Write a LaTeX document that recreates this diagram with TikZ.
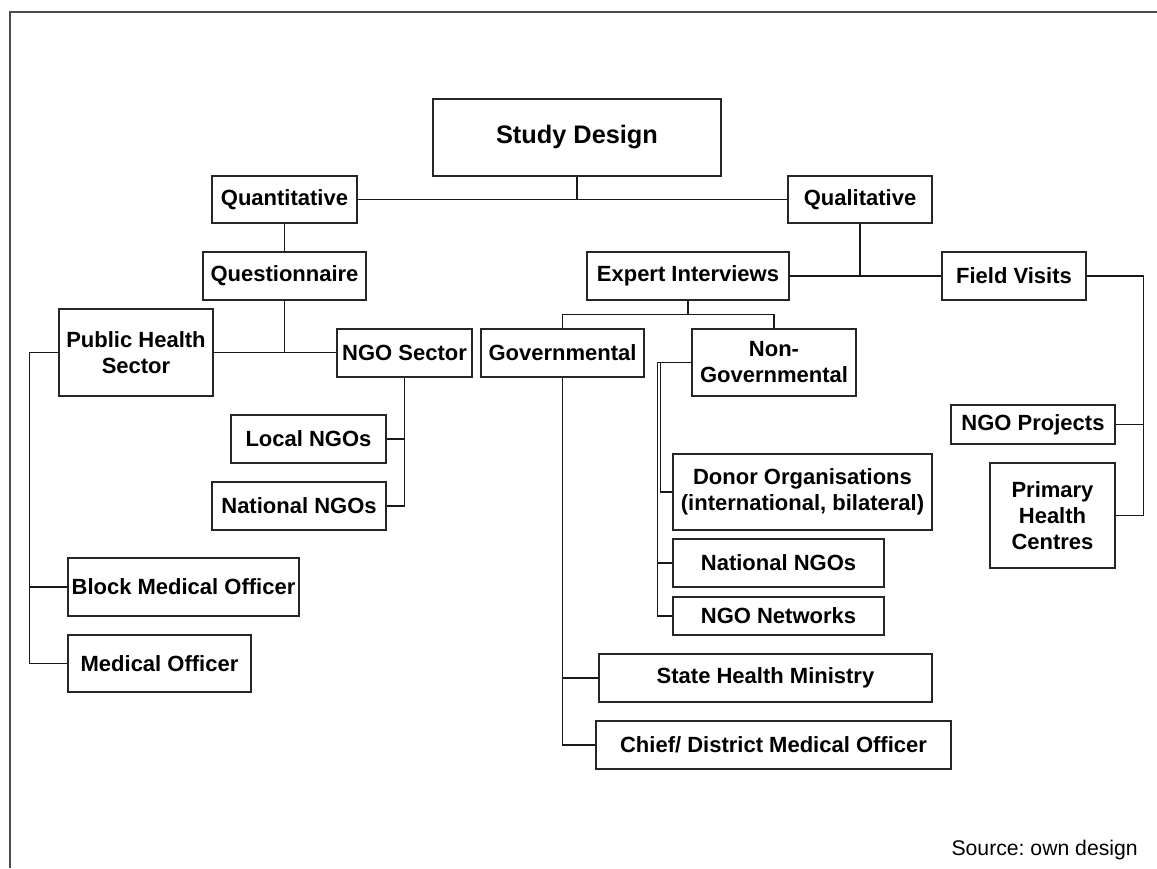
\documentclass[tikz,border=0pt]{standalone}
\usepackage{fontspec}
\setmainfont{Liberation Sans}
\frenchspacing
\begin{document}
\begin{tikzpicture}[x=0.75pt,y=-0.75pt,
  box/.style={draw=black!85, line width=0.8pt, inner sep=0pt, align=center, fill=white,
    font=\bfseries\fontsize{16.5}{19.5}\selectfont},
  bigbox/.style={box, font=\bfseries\fontsize{19}{23}\selectfont},
  sz/.style 2 args={minimum width=#1*0.75pt, minimum height=#2*0.75pt},
  link/.style={draw=black!90, line width=0.8pt},
  frame/.style={draw=black!70, line width=1.5pt}]
\useasboundingbox (0,0) rectangle (1157,868);
% outer frame
\draw[frame] (9.5,868) -- (9.5,11.5) -- (1157,11.5);

% top levels
\node[bigbox, sz={288}{77}] (study) at (577,137.5) {Study Design};
\node[box, sz={145}{47}] (quant) at (284.5,199.5) {Quantitative};
\node[box, sz={144}{47}] (qual) at (860,199.5) {Qualitative};
\node[box, sz={163}{48}] (quest) at (284.5,276) {Questionnaire};
\node[box, sz={202}{48}] (expert) at (688,276) {Expert Interviews};
\node[box, sz={144}{48}] (field) at (1014,276) {Field Visits};

% quantitative branch
\node[box, sz={154}{87}] (phs) at (136,352.5) {Public Health\\Sector};
\node[box, sz={135}{48}] (ngosec) at (404.5,353) {NGO Sector};
\node[box, sz={155}{48}] (localngo) at (308.5,439) {Local NGOs};
\node[box, sz={174}{48}] (natngoa) at (299,506) {National NGOs};
\node[box, sz={231}{58}] (bmo) at (183.5,587) {Block Medical Officer};
\node[box, sz={183}{57}] (mo) at (159.5,663.5) {Medical Officer};

% qualitative branch
\node[box, sz={163}{48}] (gov) at (562.5,353) {Governmental};
\node[box, sz={164}{67}] (nongov) at (774,362.5) {Non-\\Governmental};
\node[box, sz={259}{76}] (donor) at (802.5,492) {Donor Organisations\\(international, bilateral)};
\node[box, sz={211}{48}] (natngob) at (778.5,563) {National NGOs};
\node[box, sz={211}{38}] (ngonet) at (778.5,616) {NGO Networks};
\node[box, sz={333}{48}] (shm) at (765.5,678) {State Health Ministry};
\node[box, sz={355}{48}] (cdmo) at (773.5,745) {Chief/ District Medical Officer};
\node[box, sz={164}{39}] (ngoproj) at (1033,424.5) {NGO Projects};
\node[box, sz={125}{105}] (phc) at (1052.5,515.5) {Primary\\Health\\Centres};

% connectors
\draw[link] (study.south) -- (study.south |- quant.east);
\draw[link] (quant.east) -- (qual.west);
\draw[link] (quant.south) -- (quest.north);
\draw[link] (quest.south) -- (quest.south |- phs.east);
\draw[link] (phs.east) -- (phs.east -| ngosec.west);
\draw[link] (phs.west) -- ++(-29,0) |- (mo.west);
\draw[link] (phs.west) ++(-29,0) |- (bmo.west);
\draw[link] (ngosec.south) |- (natngoa.east);
\draw[link] (ngosec.south) |- (localngo.east);

\draw[link] (qual.south) -- (qual.south |- expert.east);
\draw[link] (expert.east) -- (field.west);
\draw[link] (expert.south) -- ++(0,14) -| (gov.north);
\draw[link] (expert.south) ++(0,14) -| (nongov.north);
\draw[link] (gov.south) |- (cdmo.west);
\draw[link] (gov.south) |- (shm.west);
\draw[link] (nongov.west) -- ++(-34,0) |- (ngonet.west);
\draw[link] (nongov.west) ++(-34,0) |- (natngob.west);
\draw[link] (nongov.west) ++(-31,0) |- (donor.west);
\draw[link] (field.east) -- ++(57,0) |- (phc.east);
\draw[link] (field.east) ++(57,0) |- (ngoproj.east);

% source note
\node[anchor=base east, inner sep=0pt, font=\fontsize{15.9}{19}\selectfont] (src) at (1138,855) {Source: own design};
\end{tikzpicture}
\end{document}
